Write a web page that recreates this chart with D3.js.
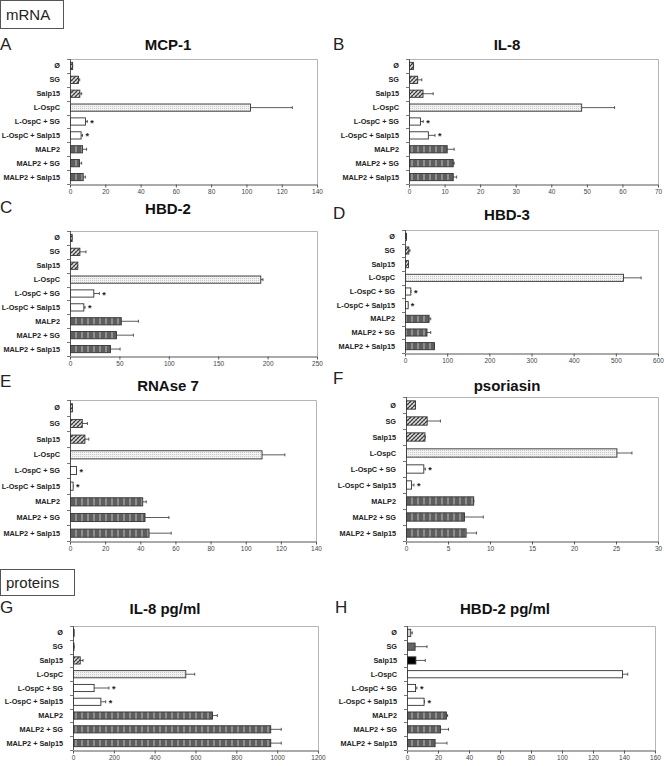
<!DOCTYPE html>
<html><head><meta charset="utf-8">
<script src="https://cdn.jsdelivr.net/npm/d3@7"></script>
<style>body{margin:0;background:#fff}svg{display:block}</style>
</head><body>
<svg id="c" width="664" height="766"></svg>
<script>
// ---------- DATA ----------
const categories = ["Ø","SG","Salp15","L-OspC","L-OspC + SG","L-OspC + Salp15","MALP2","MALP2 + SG","MALP2 + Salp15"];

const mcp1Values  = [1.2, 4.5, 5.3, 102, 8.5, 6, 6.8, 5.1, 7.2];
const mcp1Errors  = [0.3, 1, 1.3, 24, 1.3, 1.1, 2.6, 1.5, 1.5];
const il8Values   = [1.1, 2.3, 3.8, 48.4, 3.1, 5.3, 10.6, 12.3, 12.3];
const il8Errors   = [0.2, 1.3, 3, 9.4, 0.9, 2, 2.1, 0.4, 1.1];
const hbd2Values  = [1.7, 9.5, 7.4, 192.6, 23.6, 13.5, 51.4, 46.6, 40.5];
const hbd2Errors  = [0.3, 6.7, 0.3, 2.7, 6.1, 1.7, 17.9, 17.6, 10.2];
const hbd3Values  = [2.4, 7.9, 7, 517, 12.6, 6.3, 56, 51, 68.7];
const hbd3Errors  = [0.3, 3.9, 0.5, 43, 1.5, 0.5, 5, 10, 0.5];
const rnaseValues = [1.1, 6.7, 8.2, 109, 3.4, 1.5, 41.1, 42.4, 44.7];
const rnaseErrors = [0.2, 3.2, 2.5, 13.3, 0.3, 0.2, 2.3, 13.9, 12.9];
const psorValues  = [1.07, 2.46, 2.2, 25.05, 2.06, 0.6, 8.0, 6.9, 7.1];
const psorErrors  = [0.05, 1.64, 0.1, 1.85, 0.24, 0.35, 0.08, 2.3, 1.3];
const il8pgValues = [3, 1.5, 33, 550, 101, 134, 681, 966, 966];
const il8pgErrors = [1, 4, 16, 46, 75, 26, 26, 54, 54];
const hbd2pgValues = [2.1, 4.9, 5.4, 138.7, 5.2, 10.7, 25.1, 21.3, 17.8];
const hbd2pgErrors = [1.3, 8, 6.4, 3.7, 1.2, 0.6, 1.1, 5.5, 8];

const starred = [false,false,false,false,true,true,false,false,false];

const ticksMCP1  = [0,20,40,60,80,100,120,140];
const ticksIL8   = [0,10,20,30,40,50,60,70];
const ticksHBD2  = [0,50,100,150,200,250];
const ticksHBD3  = [0,100,200,300,400,500,600];
const ticksRNase = [0,20,40,60,80,100,120,140];
const ticksPsor  = [0,5,10,15,20,25,30];
const ticksIL8pg = [0,200,400,600,800,1000,1200];
const ticksHBD2pg= [0,20,40,60,80,100,120,140,160];

const fillsMRNA = ["hatch","hatch","hatch","dots","white","white","stripes","stripes","stripes"];
const fillsHBD2pg = ["light","dark","black","white","white","white","stripes","stripes","stripes"];

const panels = [
  {letter:"A", title:"MCP-1", values:mcp1Values, errors:mcp1Errors, ticks:ticksMCP1, fills:fillsMRNA},
  {letter:"B", title:"IL-8", values:il8Values, errors:il8Errors, ticks:ticksIL8, fills:fillsMRNA},
  {letter:"C", title:"HBD-2", values:hbd2Values, errors:hbd2Errors, ticks:ticksHBD2, fills:fillsMRNA},
  {letter:"D", title:"HBD-3", values:hbd3Values, errors:hbd3Errors, ticks:ticksHBD3, fills:fillsMRNA},
  {letter:"E", title:"RNAse 7", values:rnaseValues, errors:rnaseErrors, ticks:ticksRNase, fills:fillsMRNA},
  {letter:"F", title:"psoriasin", values:psorValues, errors:psorErrors, ticks:ticksPsor, fills:fillsMRNA},
  {letter:"G", title:"IL-8 pg/ml", values:il8pgValues, errors:il8pgErrors, ticks:ticksIL8pg, fills:fillsMRNA},
  {letter:"H", title:"HBD-2 pg/ml", values:hbd2pgValues, errors:hbd2pgErrors, ticks:ticksHBD2pg, fills:fillsHBD2pg}
];

// ---------- LAYOUT ----------
const layout = [
  {x0:70, x1:317, y0:59, y1:184, lx:0, ly:50, tx:168, ty:50},
  {x0:409, x1:658, y0:59, y1:184, lx:333, ly:50, tx:507, ty:50},
  {x0:70, x1:317, y0:231, y1:356, lx:0, ly:213, tx:168, ty:214},
  {x0:405, x1:658, y0:230, y1:353, lx:333, ly:219, tx:507, ty:220},
  {x0:70, x1:316, y0:400, y1:541, lx:0, ly:387, tx:168, ty:391},
  {x0:406, x1:658, y0:397, y1:541, lx:333, ly:384, tx:507, ty:391},
  {x0:73, x1:318, y0:626, y1:750, lx:0, ly:613, tx:165, ty:614},
  {x0:407, x1:655, y0:626, y1:750, lx:335, ly:613, tx:505, ty:614}
];

const svg = d3.select("#c");
const defs = svg.append("defs");
// crosshatch
const ph = defs.append("pattern").attr("id","hatch").attr("patternUnits","userSpaceOnUse").attr("width",4).attr("height",4);
ph.append("rect").attr("width",4).attr("height",4).attr("fill","#e0e0e0");
ph.append("path").attr("d","M0,4 L4,0 M-1,1 L1,-1 M3,5 L5,3").attr("stroke","#333").attr("stroke-width",1.1);
ph.append("path").attr("d","M0,0 L4,4 M-1,3 L1,5 M3,-1 L5,1").attr("stroke","#777").attr("stroke-width",0.7);
// dots
const pd = defs.append("pattern").attr("id","dots").attr("patternUnits","userSpaceOnUse").attr("width",2).attr("height",2);
pd.append("rect").attr("width",2).attr("height",2).attr("fill","#f2f2f2");
pd.append("rect").attr("width",1).attr("height",1).attr("fill","#c8c8c8");
// stripes
const ps = defs.append("pattern").attr("id","stripes").attr("patternUnits","userSpaceOnUse").attr("width",6).attr("height",6);
ps.append("rect").attr("width",6).attr("height",6).attr("fill","#5e5e5e");
ps.append("rect").attr("x",3).attr("width",2).attr("height",6).attr("fill","#8e8e8e");

const fillMap = {hatch:"url(#hatch)", dots:"url(#dots)", stripes:"url(#stripes)", white:"#fff", light:"#cfcfcf", dark:"#666", black:"#000"};

// header boxes
function box(x,y,w,h,text,tx,ty){
  svg.append("rect").attr("x",x+0.5).attr("y",y+0.5).attr("width",w).attr("height",h).attr("fill","#fff").attr("stroke","#555").attr("stroke-width",1);
  svg.append("text").attr("x",tx).attr("y",ty).attr("font-family","Liberation Sans, Arial, sans-serif").attr("font-size",15).attr("fill","#222").text(text);
}
box(0,0,63,28,"mRNA",6,20);
box(0,569,74,26,"proteins",6,588);

panels.forEach((p,i)=>{
  const L = layout[i];
  const g = svg.append("g");
  const x = d3.scaleLinear().domain([p.ticks[0], p.ticks[p.ticks.length-1]]).range([L.x0, L.x1]);
  const y = d3.scaleBand().domain(categories).range([L.y0, L.y1]).paddingInner(0.48).paddingOuter(0.24);
  const yb = d3.scaleBand().domain(categories).range([L.y0, L.y1]);

  g.append("text").attr("x",L.lx).attr("y",L.ly).attr("font-family","Liberation Sans, Arial, sans-serif").attr("font-size",17).attr("fill","#222").text(p.letter);
  g.append("text").attr("x",L.tx).attr("y",L.ty).attr("text-anchor","middle").attr("font-family","Liberation Sans, Arial, sans-serif").attr("font-weight","bold").attr("font-size",15).attr("fill","#111").text(p.title);

  // frame top/right
  g.append("path").attr("d",`M${L.x0},${L.y0+0.5}H${L.x1+0.5}V${L.y1}`).attr("fill","none").attr("stroke","#b5b5b5").attr("stroke-width",1);

  // x axis
  const xa = g.append("g").attr("transform",`translate(0,${L.y1+0.5})`)
    .call(d3.axisBottom(x).tickValues(p.ticks).tickSize(3).tickSizeOuter(0).tickPadding(2).tickFormat(d3.format("d")));
  xa.select(".domain").attr("stroke","#555");
  xa.selectAll(".tick line").attr("stroke","#555");
  xa.selectAll("text").attr("font-family","Liberation Sans, Arial, sans-serif").attr("font-size",6.5).attr("fill","#444");

  // y axis: ticks at band boundaries
  g.append("line").attr("x1",L.x0+0.5).attr("x2",L.x0+0.5).attr("y1",L.y0).attr("y2",L.y1).attr("stroke","#555");
  const bounds = categories.map(c=>yb(c)).concat([L.y1]);
  g.selectAll(".yt").data(bounds).join("line").attr("x1",L.x0-3).attr("x2",L.x0).attr("y1",d=>Math.round(d)+0.5).attr("y2",d=>Math.round(d)+0.5).attr("stroke","#777");
  g.selectAll(".cl").data(categories).join("text")
    .attr("x",L.x0-10).attr("y",c=>yb(c)+yb.bandwidth()/2+2.5).attr("text-anchor","end")
    .attr("font-family","Liberation Sans, Arial, sans-serif").attr("font-weight","bold").attr("font-size",7.3).attr("fill","#222").text(c=>c);

  const data = categories.map((c,k)=>({c, v:p.values[k], e:p.errors[k], f:p.fills[k], s:starred[k]}));
  // error bars
  data.forEach(d=>{
    const cy = y(d.c)+y.bandwidth()/2;
    const xe = x(d.v+d.e);
    g.append("line").attr("x1",x(d.v)).attr("x2",xe).attr("y1",cy).attr("y2",cy).attr("stroke","#333").attr("stroke-width",0.8);
    g.append("line").attr("x1",xe).attr("x2",xe).attr("y1",cy-1.5).attr("y2",cy+1.5).attr("stroke","#333").attr("stroke-width",0.8);
    if(d.s){
      g.append("text").attr("x",xe+3).attr("y",cy+4).attr("font-family","Liberation Sans, Arial, sans-serif").attr("font-weight","bold").attr("font-size",9).attr("fill","#222").text("*");
    }
  });
  // bars
  g.selectAll(".bar").data(data).join("rect")
    .attr("x",x(0)+0.5).attr("y",d=>y(d.c)).attr("width",d=>Math.max(0.5,x(d.v)-x(0)))
    .attr("height",y.bandwidth()).attr("fill",d=>fillMap[d.f]).attr("stroke","#333").attr("stroke-width",0.9);
});
</script>
</body></html>
